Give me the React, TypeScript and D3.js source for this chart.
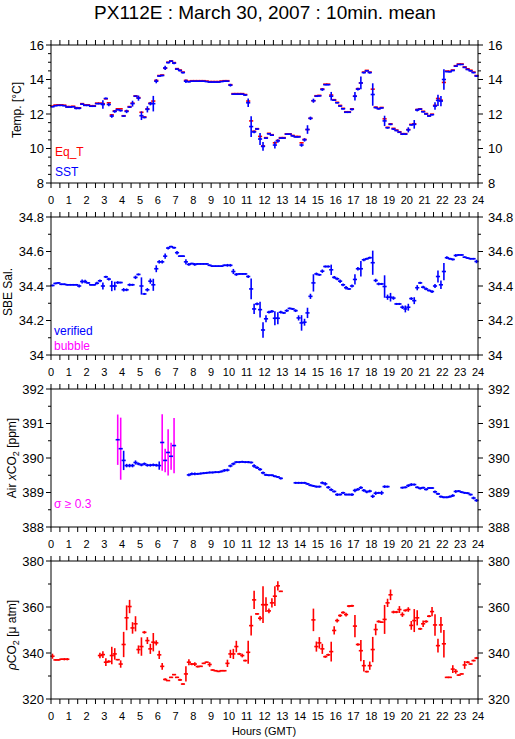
import React from 'react';
import * as d3 from 'd3';

const width = 515;
const height = 739;

// 10 min means, 6 per hour, [value, std] ; null = no data
const sst = [
  [12.42,.03],[12.48,.03],[12.5,.03],[12.5,.03],[12.48,.03],[12.4,.03],
  [12.4,.03],[12.42,.03],[12.33,.06],[12.33,.06],[12.57,.05],[12.5,.03],
  [12.5,.03],[12.45,.03],[12.45,.03],[12.6,.04],[12.6,.04],[12.55,.25],
  [12.9,.05],[12.55,.1],[11.88,.1],[12.15,.08],[12.25,.04],[12.2,.06],
  [11.88,.04],[12.15,.1],[12.4,.05],[12.6,.17],[13.03,.04],[12.92,.15],
  [11.9,.25],[11.8,.05],[12.27,.18],[12.6,.1],[12.6,.45],[13.9,.12],
  [14.2,.04],[14.23,.04],[14.67,.12],[14.98,.05],[15.06,.04],[14.95,.06],
  [14.6,.05],[14.52,.05],[14.4,.05],[13.9,.1],[13.87,.05],[13.9,.03],
  [13.9,.03],[13.9,.03],[13.9,.03],[13.9,.03],[13.88,.03],[13.85,.03],
  [13.85,.03],[13.85,.03],[13.85,.03],[13.88,.03],[13.9,.03],[13.9,.03],
  [13.67,.08],[13.15,.04],[13.15,.03],[13.15,.03],[13.15,.03],[13.1,.05],
  [12.65,.25],[11.27,.6],[10.96,.08],[11.13,.04],[10.55,.35],[10.12,.25],
  [10.6,.04],[10.85,.04],[10.77,.04],[10.2,.2],[10.44,.1],[10.6,.04],
  [10.6,.03],[10.83,.03],[10.83,.03],[10.73,.04],[10.67,.03],[10.67,.03],
  [10.2,.1],[10.5,.1],[11.1,.25],[11.75,.1],[12.77,.12],[13.03,.04],
  [13.05,.04],[13.42,.08],[13.7,.04],[13.7,.04],[13.03,.25],[12.8,.04],
  [12.65,.04],[12.46,.04],[12.3,.04],[12.1,.04],[12.1,.04],[12.27,.06],
  [13.03,.25],[13.44,.08],[13.8,.37],[14.4,.05],[14.5,.04],[14.4,.06],
  [13.13,.65],[12.37,.05],[12.3,.04],[12.35,.04],[11.6,.3],[11.2,.05],
  [11.4,.05],[11.13,.06],[11.04,.04],[10.94,.04],[10.83,.05],[10.83,.05],
  [11.08,.15],[11.37,.04],[11.4,.25],[12.23,.08],[12.28,.04],[12.13,.04],
  [12.0,.04],[11.88,.04],[11.96,.04],[12.46,.22],[12.79,.33],[12.75,.3],
  [14.0,.6],[14.46,.04],[14.45,.04],[14.52,.04],[14.77,.04],[14.87,.03],
  [14.87,.03],[14.7,.04],[14.58,.04],[14.5,.04],[14.4,.04],[14.2,.05],
];

const eqT = [
  12.46,12.52,12.53,12.53,12.51,12.43,
  12.43,12.45,12.37,12.36,12.6,12.53,
  12.53,12.48,12.48,12.63,12.63,12.6,
  12.88,12.65,11.95,12.18,12.3,12.3,
  11.9,12.18,12.43,12.63,13.05,12.95,
  12.1,11.83,12.3,12.63,12.75,13.95,
  14.23,14.26,14.65,15.0,15.08,14.98,
  14.63,14.55,14.43,13.95,13.9,13.93,
  13.93,13.93,13.93,13.93,13.91,13.88,
  13.88,13.88,13.88,13.91,13.93,13.93,
  13.7,13.18,13.18,13.18,13.18,13.13,
  12.75,11.6,11.0,11.15,10.7,10.15,
  10.63,10.88,10.8,10.33,10.47,10.63,
  10.63,10.85,10.85,10.76,10.7,10.7,
  10.33,10.53,11.1,11.75,12.77,13.06,
  13.08,13.45,13.73,13.73,13.1,12.83,
  12.68,12.5,12.33,12.13,12.13,12.3,
  13.03,13.47,13.8,14.43,14.53,14.43,
  13.44,12.4,12.33,12.38,11.72,11.23,
  11.43,11.17,11.07,10.97,10.86,10.86,
  11.1,11.4,11.43,12.26,12.3,12.16,
  12.03,11.91,11.99,12.5,12.9,12.8,
  13.83,14.49,14.48,14.55,14.8,14.9,
  14.9,14.73,14.62,14.54,14.43,14.23,
];

const sal = [
  [34.403,.005],[34.415,.005],[34.418,.005],[34.41,.005],[34.41,.005],[34.407,.005],
  [34.407,.005],[34.407,.005],[34.407,.005],[34.40,.008],[34.426,.012],[34.426,.01],
  [34.418,.005],[34.407,.005],[34.407,.005],[34.416,.008],[34.43,.008],[34.40,.02],
  [34.453,.006],[34.44,.008],[34.40,.03],[34.40,.025],[34.42,.008],[34.42,.005],
  [34.378,.01],[34.378,.008],[34.407,.008],[34.407,.006],[34.45,.01],[34.467,.006],
  [34.40,.05],[34.354,.006],[34.378,.01],[34.428,.015],[34.407,.035],[34.50,.02],
  [34.54,.01],[34.54,.01],[34.573,.015],[34.62,.008],[34.628,.005],[34.622,.006],
  [34.593,.01],[34.573,.005],[34.573,.005],[34.54,.015],[34.525,.008],[34.53,.005],
  [34.525,.008],[34.528,.005],[34.528,.005],[34.528,.005],[34.528,.005],[34.52,.005],
  [34.515,.005],[34.515,.005],[34.515,.005],[34.515,.005],[34.52,.005],[34.52,.008],
  [34.52,.008],[34.484,.015],[34.467,.008],[34.47,.005],[34.47,.005],[34.47,.005],
  [34.455,.008],[34.383,.06],[34.267,.03],[34.296,.008],[34.263,.045],[34.145,.045],
  [34.21,.02],[34.248,.008],[34.253,.008],[34.213,.04],[34.213,.035],[34.248,.008],
  [34.244,.006],[34.257,.008],[34.27,.005],[34.267,.006],[34.257,.008],[34.215,.015],
  [34.186,.045],[34.19,.02],[34.244,.03],[34.34,.015],[34.418,.05],[34.47,.008],
  [34.465,.006],[34.486,.01],[34.513,.006],[34.513,.006],[34.494,.03],[34.45,.008],
  [34.442,.008],[34.428,.01],[34.407,.008],[34.39,.01],[34.383,.006],[34.40,.008],
  [34.438,.03],[34.50,.01],[34.50,.045],[34.552,.008],[34.558,.006],[34.564,.006],
  [34.535,.07],[34.432,.01],[34.412,.008],[34.412,.006],[34.397,.065],[34.335,.015],
  [34.335,.025],[34.33,.01],[34.296,.006],[34.296,.006],[34.277,.01],[34.267,.02],
  [34.277,.02],[34.327,.008],[34.315,.02],[34.39,.015],[34.418,.006],[34.393,.008],
  [34.383,.008],[34.374,.006],[34.368,.008],[34.40,.012],[34.455,.035],[34.407,.025],
  [34.484,.05],[34.564,.008],[34.558,.006],[34.554,.006],[34.577,.008],[34.58,.005],
  [34.58,.005],[34.567,.005],[34.562,.005],[34.558,.005],[34.558,.005],[34.542,.01],
];

const n = null;
const xco2 = [
  n,n,n,n,n,n,
  n,n,n,n,n,n,
  n,n,n,n,n,n,
  n,n,n,n,[390.53,.73],[390.27,.9],
  [389.93,.28],[389.78,.05],[389.78,.05],[389.78,.05],[389.87,.06],[389.83,.04],
  [389.8,.04],[389.83,.04],[389.79,.04],[389.79,.04],[389.8,.04],[389.79,.04],
  [389.78,.12],[390.45,.82],[389.93,.34],[390.16,.67],[390.05,.39],[390.36,.8],
  n,n,n,n,[389.51,.04],[389.54,.04],
  [389.54,.04],[389.54,.03],[389.55,.03],[389.56,.03],[389.57,.03],[389.58,.03],
  [389.58,.03],[389.59,.03],[389.59,.03],[389.61,.03],[389.64,.04],[389.65,.04],
  [389.77,.04],[389.83,.04],[389.88,.03],[389.88,.03],[389.89,.03],[389.88,.03],
  [389.88,.03],[389.87,.03],[389.77,.05],[389.72,.04],[389.67,.04],[389.57,.04],
  [389.51,.03],[389.5,.03],[389.5,.03],[389.47,.03],[389.45,.03],[389.41,.03],
  n,n,n,n,[389.28,.03],[389.28,.03],
  [389.28,.03],[389.28,.03],[389.25,.03],[389.21,.03],[389.19,.03],[389.17,.03],
  [389.17,.03],[389.28,.04],[389.25,.05],[389.15,.04],[389.08,.04],[389.03,.03],
  [388.94,.04],[388.94,.03],[388.99,.03],[388.94,.03],[388.94,.03],[388.94,.04],
  [389.06,.05],[389.09,.04],[389.14,.04],[389.06,.04],[389.02,.04],[389.04,.04],
  [388.89,.05],[388.98,.05],[388.99,.03],[388.99,.06],[389.17,.04],[389.17,.03],
  n,n,n,n,[389.14,.03],[389.15,.03],
  [389.2,.04],[389.23,.04],[389.23,.03],[389.15,.03],[389.12,.03],[389.14,.03],
  [389.09,.03],[389.13,.03],[389.13,.03],[389.02,.04],[388.96,.03],[388.88,.03],
  [388.86,.03],[388.86,.03],[388.88,.03],[388.91,.04],[389.03,.04],[389.04,.03],
  [389.01,.03],[388.99,.03],[388.98,.03],[388.94,.03],[388.84,.04],[388.77,.04],
];

const pco2 = [
  [338.6,1.1],[337.0,.3],[337.0,.3],[337.3,.3],[337.3,.5],[337.3,.5],
  n,n,n,n,n,n,
  n,n,n,n,[338.9,1.2],[339.3,1.5],
  [336,1.7],[336.3,.5],[338.9,3.8],[339.6,2.5],[337.1,.3],[335.2,1.6],
  [343.7,5.5],[355.3,5.4],[360.2,2.9],[350.9,2.5],[352.7,3.3],[341.5,1.8],
  [342.8,4],[349,.6],[345.4,1.5],[341.8,2.2],[344.7,4],[344.4,1.1],
  [339.2,1.8],[334.2,1.5],[328.5,.5],[328,.2],[329.4,.3],[330.6,.3],
  [329.4,.3],[328.3,.5],[326.5,.3],[330.9,3.3],[336,1.3],[335.2,.5],
  [335.2,.8],[334.1,.4],[334.2,.3],[335.5,.3],[336,.3],[335,1],
  [332.6,.3],[332.3,.3],[332,.3],[332.3,.3],[332.3,.3],[335.5,1.6],
  [339.6,1.8],[339.6,2.2],[342.8,2.5],[339.6,.5],[338.9,.8],[336.7,.4],
  [340.3,5],[351.9,4.3],[363.1,4],[357,.4],[355.1,1],[361,8],
  [361,3.2],[358.3,1],[361.8,2],[364.7,4.3],[369.2,2],[366.8,.3],
  n,n,n,n,n,n,
  n,n,n,n,[354.4,4.9],[342.8,2.2],
  [344.4,2.5],[341.8,2.2],[338.4,.5],[339.2,.5],[340.6,4.3],[349.8,1.8],
  [354.1,.8],[356.3,.6],[357.6,.5],[356.7,.8],[360.4,.5],[360.5,.5],
  [351.7,4.8],[343.7,.5],[341,4.6],[334.5,2.5],[331.9,.4],[334.5,1.8],
  [341.5,5.5],[350.2,2.5],[353.7,.5],[353.4,.3],[354.6,6.3],[361.8,1.8],
  [365.3,2.3],[357.8,.6],[357.8,.5],[358.9,1.5],[356.7,1],[358.5,.5],
  [358.9,1],[352,1.9],[354.1,5],[355.3,3.3],[350.5,.5],[352.7,1.4],
  [353.7,.5],[356,.5],[358,2],[352.2,4.7],[343.2,3],[352.2,3.4],
  [344,6],[329.4,.3],[329.4,.3],[333,1.7],[332,1],[330.4,.3],
  [330.9,.3],[334.8,1.7],[336,.5],[335.2,.3],[336.7,.4],[337.8,.5],
];

const hourTicks = d3.range(0, 25);
const halfHourTicks = d3.range(0, 24.01, 0.5);

const BLUE = '#0000ff';
const RED = '#ff0000';
const MAGENTA = '#ff00ff';
const FONT = 'Liberation Sans, Arial, Helvetica, sans-serif';

const left = 51;
const right = 478;
const panelH = 138;
const panelTop = (i: number) => 45 + 172 * i;

const x = d3.scaleLinear().domain([0, 24]).range([left, right]);
const tOf = (i: number) => i / 6 + 1 / 12;

const panels = [
  { domain: [8, 16], major: 2, minor: 0.5 },
  { domain: [34, 34.8], major: 0.2, minor: 0.1 },
  { domain: [388, 392], major: 1, minor: 0.5 },
  { domain: [320, 380], major: 20, minor: 10 },
];

const Marks = ({ data, y, color, barColor }: any) => (
  <g strokeWidth={1.6} fill="none">
    {data.map((d: any, i: number) => {
      if (!d) return null;
      const t = tOf(i);
      const v = Array.isArray(d) ? d[0] : d;
      const e = Array.isArray(d) ? d[1] : 0;
      const bc = barColor ? barColor(e) : color;
      return (
        <g key={i}>
          {e > 0 && (
            <line x1={x(t)} x2={x(t)} y1={y(v - e)} y2={y(v + e)} stroke={bc} />
          )}
          <line x1={x(t - 1 / 12) - 0.6} x2={x(t + 1 / 12) + 0.6} y1={y(v)} y2={y(v)} stroke={color} />
        </g>
      );
    })}
  </g>
);

const Panel = ({ i, y, children }: any) => {
  const top = panelTop(i);
  const bottom = top + panelH;
  const p = panels[i];
  const yt = d3.range(p.domain[0], p.domain[1] + p.minor / 2, p.minor);
  const fmt = (v: number) => String(+v.toFixed(1));
  const isMajor = (v: number) => Math.abs(v / p.major - Math.round(v / p.major)) < 1e-6;
  return (
    <g>
      {children}
      <rect x={left} y={top} width={right - left} height={panelH} fill="none" stroke="#000" />
      {halfHourTicks.map(h => (
        <g key={h} stroke="#000">
          <line x1={x(h)} x2={x(h)} y1={top} y2={top - 5} />
          <line x1={x(h)} x2={x(h)} y1={bottom} y2={bottom + 5} />
        </g>
      ))}
      {yt.map(v => {
        const m = isMajor(v);
        const len = m ? 5 : 3;
        return (
          <g key={v}>
            <line x1={left} x2={left - len} y1={y(v)} y2={y(v)} stroke="#000" />
            <line x1={right} x2={right + len} y1={y(v)} y2={y(v)} stroke="#000" />
            {m && (
              <>
                <text x={left - 7} y={y(v)} dy="0.36em" textAnchor="end" fontSize={13}>{fmt(v)}</text>
                <text x={right + 10} y={y(v)} dy="0.36em" textAnchor="start" fontSize={13}>{fmt(v)}</text>
              </>
            )}
          </g>
        );
      })}
      {hourTicks.map(h => (
        <text key={h} x={x(h)} y={bottom + 21} textAnchor="middle" fontSize={11}>{h}</text>
      ))}
    </g>
  );
};

export default function App() {
  const ys = panels.map((p, i) =>
    d3.scaleLinear().domain(p.domain).range([panelTop(i) + panelH, panelTop(i)])
  );
  const mid = (i: number) => panelTop(i) + panelH / 2;
  return (
    <svg width={width} height={height} style={{ position: 'absolute', left: 0, top: 0, background: '#fff' }}
      fontFamily={FONT}>
      <rect width={width} height={height} fill="#fff" />
      <text x={265} y={19} textAnchor="middle" fontSize={19}>PX112E : March 30, 2007 : 10min. mean</text>

      <Panel i={0} y={ys[0]}>
        <Marks data={eqT} y={ys[0]} color={RED} />
        <Marks data={sst} y={ys[0]} color={BLUE} />
        <text x={55} y={156} fill={RED} fontSize={12}>Eq_T</text>
        <text x={55} y={176} fill={BLUE} fontSize={12}>SST</text>
      </Panel>
      <text transform={`translate(17,${mid(0) - 4}) rotate(-90)`} textAnchor="middle" dy="0.35em" fontSize={12}>Temp. [°C]</text>

      <Panel i={1} y={ys[1]}>
        <Marks data={sal} y={ys[1]} color={BLUE} />
        <text x={54} y={335} fill={BLUE} fontSize={12}>verified</text>
        <text x={54} y={350} fill={MAGENTA} fontSize={12}>bubble</text>
      </Panel>
      <text transform={`translate(8,${mid(1) + 6}) rotate(-90)`} textAnchor="middle" dy="0.35em" fontSize={12}>SBE Sal.</text>

      <Panel i={2} y={ys[2]}>
        <Marks data={xco2} y={ys[2]} color={BLUE} barColor={(e: number) => (e >= 0.3 ? MAGENTA : BLUE)} />
        <text x={54} y={508} fill={MAGENTA} fontSize={12}>σ ≥ 0.3</text>
      </Panel>
      <text transform={`translate(12,${mid(2)}) rotate(-90)`} textAnchor="middle" dy="0.35em" fontSize={12}>
        Air <tspan fontStyle="italic">x</tspan>CO<tspan fontSize={9} dy="3">2</tspan><tspan dy="-3"> [ppm]</tspan>
      </text>

      <Panel i={3} y={ys[3]}>
        <Marks data={pco2} y={ys[3]} color={RED} />
      </Panel>
      <text transform={`translate(12,${mid(3) + 5}) rotate(-90)`} textAnchor="middle" dy="0.35em" fontSize={12}>
        <tspan fontStyle="italic">ρ</tspan>CO<tspan fontSize={9} dy="3">2</tspan><tspan dy="-3"> [μ atm]</tspan>
      </text>

      <text x={264} y={735} textAnchor="middle" fontSize={11}>Hours (GMT)</text>
    </svg>
  );
}
